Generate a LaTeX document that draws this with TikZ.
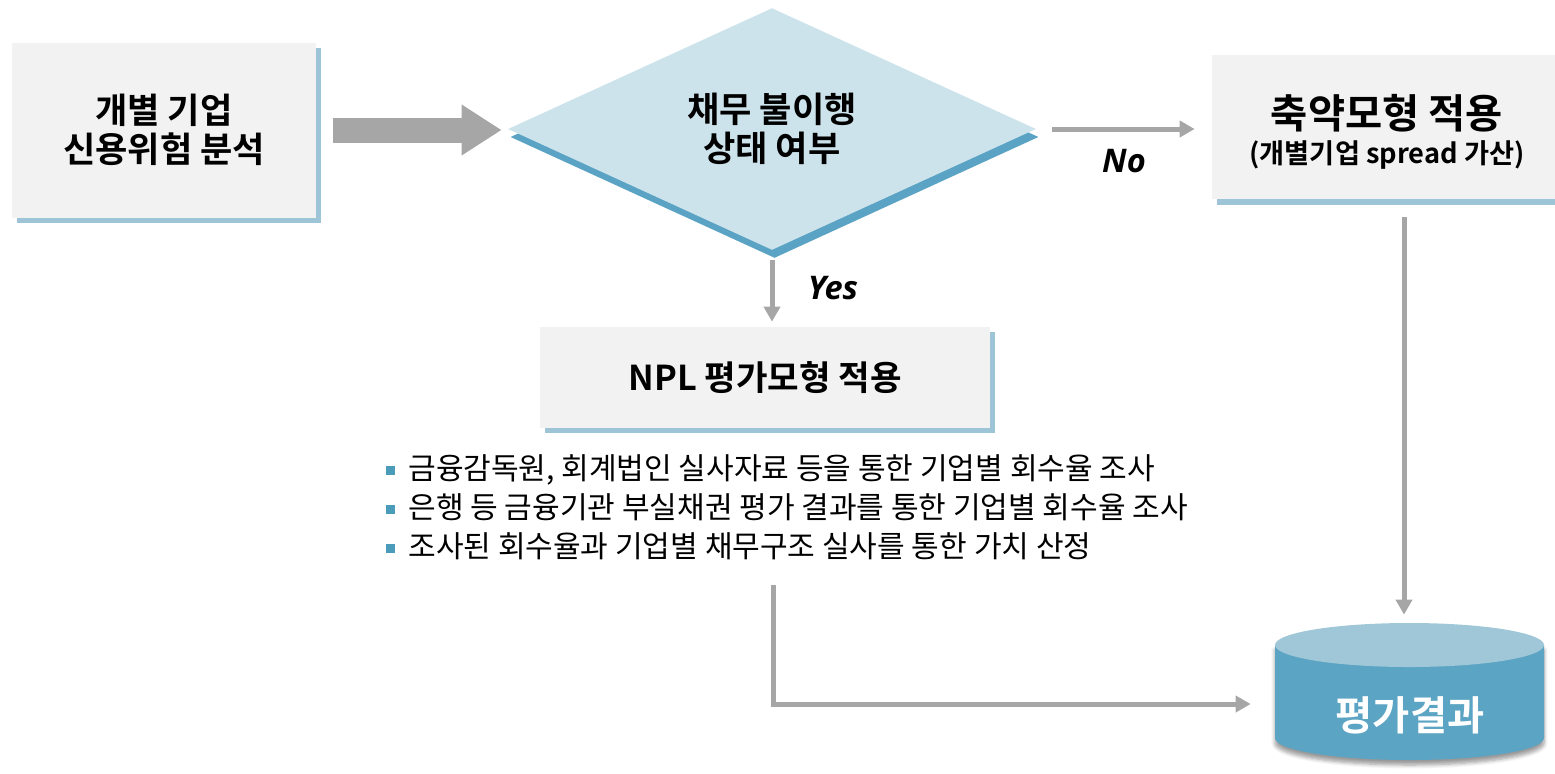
\documentclass[tikz,border=0pt]{standalone}
\usepackage{fontspec}
\setmainfont{Noto Sans CJK KR}[BoldFont={Noto Sans CJK KR Bold}]
\newfontfamily\latinfont{Open Sans}
\usepackage{xcolor}
\usepackage{tikz}
\usetikzlibrary{shapes.geometric, arrows.meta, positioning, calc, shadows, shadows.blur}
\definecolor{boxgray}{RGB}{242,242,242}
\definecolor{boxshadow}{RGB}{157,197,215}
\definecolor{decfill}{RGB}{205,227,236}
\definecolor{decshadow}{RGB}{91,163,196}
\definecolor{arrowgray}{RGB}{166,166,166}
\definecolor{cyltop}{RGB}{159,199,216}
\definecolor{cylbody}{RGB}{91,164,195}
\definecolor{bulletblue}{RGB}{75,156,187}
\newcommand{\bul}{\textcolor{bulletblue}{\rule[0.25ex]{0.18cm}{0.18cm}}\hspace{0.26cm}}

\begin{document}
\begin{tikzpicture}[
    box/.style={rectangle, fill=boxgray, align=center, inner sep=0pt,
        drop shadow={shadow xshift=0.1cm, shadow yshift=-0.1cm, fill=boxshadow, opacity=1}},
    decision/.style={diamond, fill=decfill, minimum width=10.56cm, minimum height=4.76cm, inner sep=0pt, align=center,
        drop shadow={shadow xshift=0.05cm, shadow yshift=-0.16cm, fill=decshadow, opacity=1}},
    bigarrow/.style={-{Triangle[length=0.8cm, width=0.96cm]}, line width=0.5cm, arrowgray},
    thinarrow/.style={-{Triangle[length=0.3cm, width=0.32cm]}, line width=0.1cm, arrowgray},
    yesno/.style={text=black, font=\latinfont\fontsize{18.5}{20}\selectfont\bfseries\itshape},
    title/.style={font=\fontsize{20}{22.5}\selectfont\bfseries}
]
\useasboundingbox (0,0) rectangle (31.1,-15.46);

% Start box
\node[box, title, minimum width=6.08cm, minimum height=3.5cm] (box1) at (3.28, -2.6) {개별 기업\\신용위험 분석};

% Decision
\node[decision, title] (dec) at (15.44, -2.58) {채무 불이행\\상태 여부};

\draw[bigarrow, shorten <=0.34cm, shorten >=0.12cm] (box1.east) -- (box1.east -| dec.west);

% No branch
\node[box, minimum width=7cm, minimum height=2.88cm,
    drop shadow={shadow xshift=0.1cm, shadow yshift=-0.12cm, fill=boxshadow, opacity=1}] (box3) at (27.74, -2.54) {};
\node[font=\fontsize{23}{26}\selectfont\bfseries] (box3a) at (27.74, -2.26) {축약모형 적용};
\node[font=\fontsize{15.5}{18}\selectfont\bfseries] (box3b) at (27.74, -3.1) {(개별기업 spread 가산)};

\draw[thinarrow, shorten <=0.32cm, shorten >=0.34cm] (dec.east) -- (dec.east -| box3.west)
    node[midway, below=0.24cm, yesno] {No};

% Yes branch
\node[box, minimum width=9cm, minimum height=2.02cm, font=\fontsize{19.5}{22}\selectfont\bfseries] (npl) at (15.3, -7.55) {NPL 평가모형 적용};

\draw[thinarrow, shorten <=0.2cm, shorten >=0.1cm] (dec.south) -- (dec.south |- npl.north)
    node[midway, right=0.55cm, yesno] {Yes};

\node[anchor=west, align=left, inner sep=0pt, font=\fontsize{17.1}{22.2}\selectfont] (notes) at (7.72, -10.14) {%
    \bul 금융감독원, 회계법인 실사자료 등을 통한 기업별 회수율 조사\\
    \bul 은행 등 금융기관 부실채권 평가 결과를 통한 기업별 회수율 조사\\
    \bul 조사된 회수율과 기업별 채무구조 실사를 통한 가치 산정};

% Result
\node[minimum width=5.38cm, minimum height=2.74cm, inner sep=0pt] (cyl) at (28.19, -13.83) {};
\fill[cylbody, blur shadow={shadow xshift=0cm, shadow yshift=-0.1cm, shadow blur steps=6}]
    (25.5,-12.9) -- (25.5,-14.76) arc[start angle=180, end angle=360, x radius=2.69, y radius=0.44] -- (30.88,-12.9) -- cycle;
\fill[cyltop] (28.19,-12.9) ellipse[x radius=2.69, y radius=0.44];
\node[font=\fontsize{23}{26}\selectfont\bfseries, text=white] (cyltext) at (28.2, -14.3) {평가결과};

\coordinate (tail) at (15.46, -11.7);
\draw[thinarrow, shorten >=0.48cm] (tail) |- ([yshift=-0.25cm]cyl.west);
\draw[thinarrow, shorten <=0.36cm, shorten >=0.16cm] ([xshift=-0.11cm]cyl.north |- box3.south) -- ([xshift=-0.11cm]cyl.north);

\end{tikzpicture}
\end{document}
